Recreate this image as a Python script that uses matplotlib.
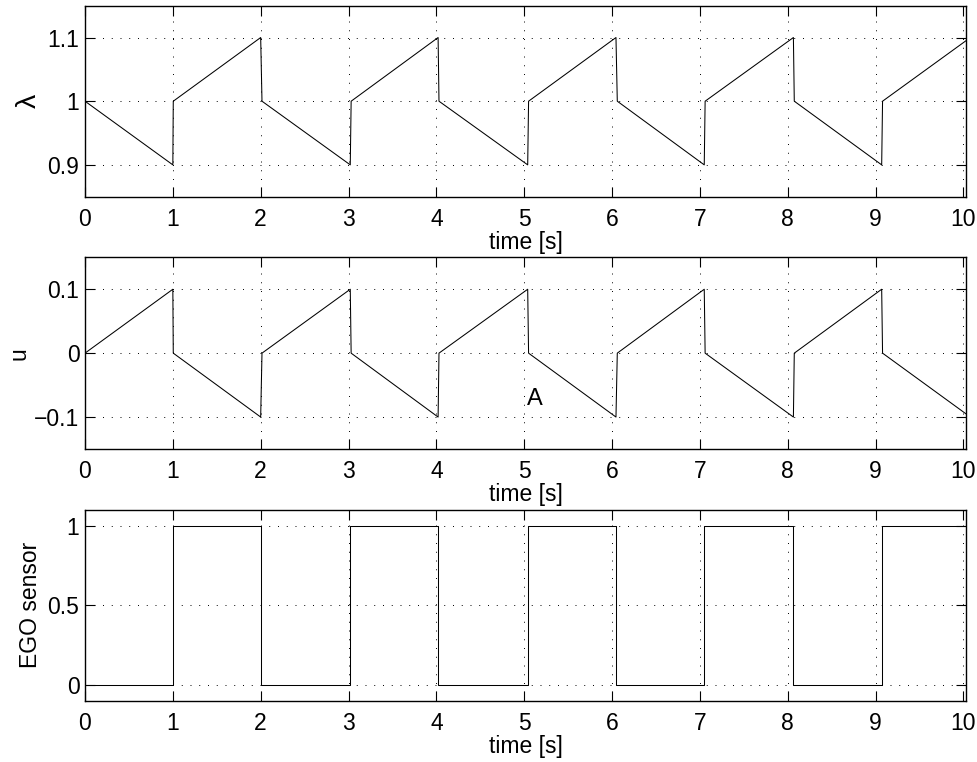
import matplotlib
matplotlib.use("Agg")
import matplotlib.pyplot as plt

plt.rcParams['font.family'] = ['Liberation Sans', 'DejaVu Sans']

# time vertices (s) for lambda and u traces (jumps are slightly slanted)
t_trace = [0, 1.0, 1.005, 2.0, 2.015, 3.02, 3.03, 4.02, 4.03, 5.04, 5.05,
           6.045, 6.06, 7.05, 7.06, 8.065, 8.075, 9.07, 9.08, 10.03]
lam_vals = [1.0, 0.9, 1.0, 1.1, 1.0, 0.9, 1.0, 1.1, 1.0, 0.9, 1.0,
            1.1, 1.0, 0.9, 1.0, 1.1, 1.0, 0.9, 1.0, 1.095]
u_vals = [0.0, 0.1, 0.0, -0.1, 0.0, 0.1, 0.0, -0.1, 0.0, 0.1, 0.0,
          -0.1, 0.0, 0.1, 0.0, -0.1, 0.0, 0.1, 0.0, -0.095]

# EGO sensor switching instants and levels (step, held after each instant)
ego_t = [0, 1.0, 2.0, 3.02, 4.02, 5.04, 6.045, 7.05, 8.065, 9.07, 10.03]
ego_v = [0, 1, 0, 1, 0, 1, 0, 1, 0, 1, 1]

x_ticks = list(range(0, 11))
lam_ticks = [0.9, 1.0, 1.1]
lam_ticklabels = ['0.9', '1', '1.1']
u_ticks = [-0.1, 0.0, 0.1]
u_ticklabels = ['\u22120.1', '0', '0.1']
ego_ticks = [0, 0.5, 1]
ego_ticklabels = ['0', '0.5', '1']

W, H = 978, 762
fig = plt.figure(figsize=(W / 100, H / 100), dpi=100)

def frac(l, t, r, b):
    return [l / W, 1 - b / H, (r - l) / W, (b - t) / H]

ax1 = fig.add_axes(frac(85, 5.7, 966, 196.7))
ax2 = fig.add_axes(frac(85, 257.3, 966, 449))
ax3 = fig.add_axes(frac(85, 510, 966, 700.7))

fs = 16.5
lw = 0.75

ax1.plot(t_trace, lam_vals, color='black', lw=lw)
ax2.plot(t_trace, u_vals, color='black', lw=lw)
ax3.step(ego_t, ego_v, where='post', color='black', lw=lw)

ax1.set_ylim(0.85, 1.15)
ax1.set_yticks(lam_ticks)
ax1.set_yticklabels(lam_ticklabels)
ax1.set_ylabel('\u03bb', fontsize=fs + 4, labelpad=4)

ax2.set_ylim(-0.15, 0.15)
ax2.set_yticks(u_ticks)
ax2.set_yticklabels(u_ticklabels)
ax2.set_ylabel('u', fontsize=fs, labelpad=3)
ax2.text(5.03, -0.072, 'A', fontsize=17, ha='left', va='center')

ax3.set_ylim(-0.1, 1.1)
ax3.set_yticks(ego_ticks)
ax3.set_yticklabels(ego_ticklabels)
ax3.set_ylabel('EGO sensor', fontsize=fs, labelpad=4)

for ax in (ax1, ax2, ax3):
    ax.set_xlim(0, 10.03)
    ax.set_xticks(x_ticks)
    ax.set_xticklabels([str(v) for v in x_ticks])
    ax.set_xlabel('time [s]', fontsize=fs, labelpad=0)
    ax.tick_params(axis='both', direction='in', length=7, width=0.8,
                   top=True, right=True, labelsize=fs, color='black')
    ax.tick_params(axis='x', pad=8)
    ax.tick_params(axis='y', pad=4)
    ax.grid(True, color='black', linestyle=(0, (1, 8)), linewidth=0.7)
    for s in ax.spines.values():
        s.set_linewidth(1.0)
        s.set_color('black')

fig.savefig('out.png', dpi=100)
